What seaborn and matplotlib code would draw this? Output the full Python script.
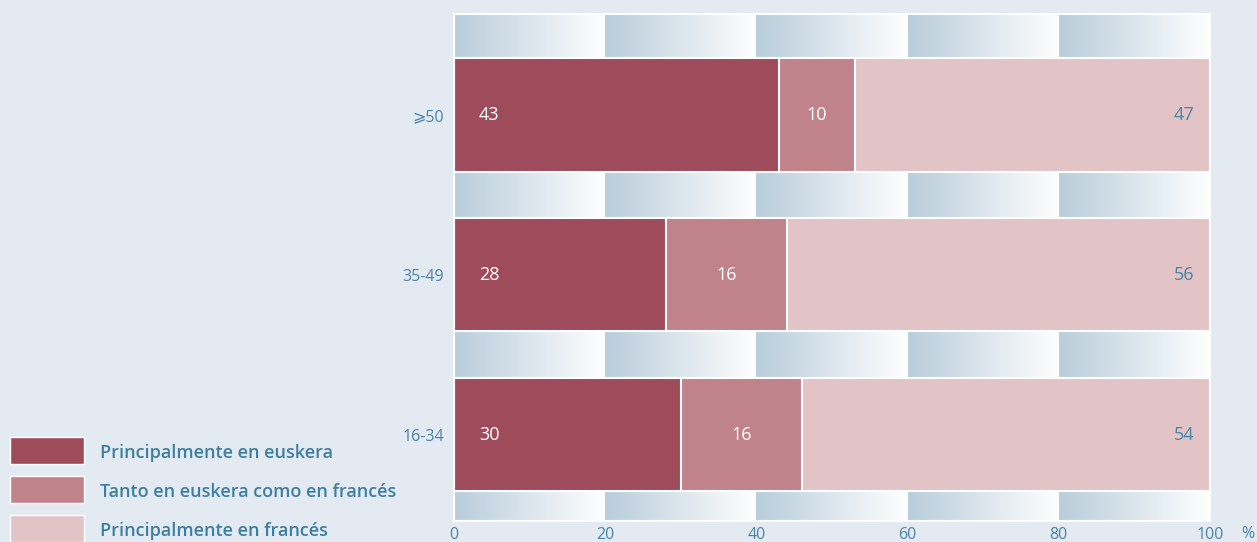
import numpy as np
import pandas as pd
import matplotlib
matplotlib.use('Agg')
import matplotlib.pyplot as plt
import seaborn as sns
from matplotlib.colors import LinearSegmentedColormap

# Data
groups = ['⩾50', '35-49', '16-34']
euskera = [43, 28, 30]
ambos = [10, 16, 16]
frances = [47, 56, 54]
legend_labels = ['Principalmente en euskera',
                 'Tanto en euskera como en francés',
                 'Principalmente en francés']
xticks = [0, 20, 40, 60, 80, 100]

colors = ['#9e4c5b', '#c0838a', '#e2c4c6']
bg = '#e3eaf1'
txt_blue = '#4a85a6'

sns.set_style("white")
plt.rcParams['font.family'] = ['Open Sans', 'DejaVu Sans']

fig = plt.figure(figsize=(12.57, 5.42), dpi=100, facecolor=bg)
ax = fig.add_axes([0.3612, 0.0387, 0.6014, 0.9355])
ax.set_facecolor('white')

# gradient bands, one per 20% column
grad = LinearSegmentedColormap.from_list('g', ['#b9cddb', '#ffffff'])
ramp = np.linspace(0, 1, 256).reshape(1, -1)
for x0 in xticks[:-1]:
    ax.imshow(ramp, cmap=grad, aspect='auto', extent=[x0, x0 + 20, 2.54, -0.63],
              zorder=0, interpolation='bicubic')

# stacked bars via cumulative totals
df = pd.DataFrame({'grupo': groups, 'e': euskera, 'a': ambos, 'f': frances})
df['c1'] = df['e']
df['c2'] = df['e'] + df['a']
df['c3'] = df['c2'] + df['f']
for col, c in zip(['c3', 'c2', 'c1'], colors[::-1]):
    sns.barplot(data=df, x=col, y='grupo', color=c, saturation=1, width=0.71,
                edgecolor='white', linewidth=1.5, ax=ax, zorder=2)

# value labels
for i in range(len(groups)):
    ax.text(3.3, i, str(euskera[i]), color='white', fontsize=13, va='center', ha='left', zorder=3)
    ax.text(euskera[i] + ambos[i] / 2, i, str(ambos[i]), color='white', fontsize=13,
            va='center', ha='center', zorder=3)
    ax.text(97.9, i, str(frances[i]), color=txt_blue, fontsize=13, va='center', ha='right', zorder=3)

ax.set_xlim(0, 100)
ax.set_ylim(2.54, -0.63)
ax.set_xticks(xticks)
ax.set_xticklabels([str(t) for t in xticks])
ax.set_xlabel('')
ax.set_ylabel('')
ax.tick_params(axis='both', length=0, colors=txt_blue, labelsize=11.5)
ax.tick_params(axis='x', pad=4)
ax.tick_params(axis='y', pad=7)
for s in ax.spines.values():
    s.set_color('white')
    s.set_linewidth(1.5)
fig.text(1248 / 1257, 1 - 534 / 542, '%', color=txt_blue, fontsize=11.5, ha='center', va='center')

# legend drawn manually at bottom left
for k, (lab, c) in enumerate(zip(legend_labels, colors)):
    yc = 1 - (450 + 39 * k) / 542
    fig.patches.append(plt.Rectangle((10 / 1257, yc - 13.5 / 542), 74 / 1257, 27 / 542,
                                     transform=fig.transFigure, facecolor=c,
                                     edgecolor='white', linewidth=1))
    fig.text(100 / 1257, yc - 3 / 542, lab, color='#3d7fa0', fontsize=13,
             fontweight='semibold', va='center', ha='left')

fig.savefig('out.png', dpi=100, facecolor=bg)
